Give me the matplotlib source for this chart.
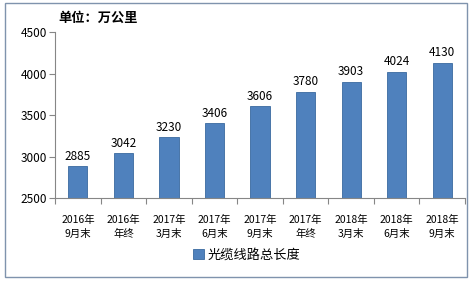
import matplotlib
matplotlib.use("Agg")
import matplotlib.pyplot as plt
from matplotlib.patches import Rectangle

plt.rcParams['font.family'] = ['Noto Sans CJK SC', 'DejaVu Sans']

categories = ["2016年\n9月末", "2016年\n年终", "2017年\n3月末", "2017年\n6月末", "2017年\n9月末",
              "2017年\n年终", "2018年\n3月末", "2018年\n6月末", "2018年\n9月末"]
values = [2885, 3042, 3230, 3406, 3606, 3780, 3903, 4024, 4130]
yticks = [2500, 3000, 3500, 4000, 4500]
series_name = "光缆线路总长度"

fig = plt.figure(figsize=(4.75, 2.83), dpi=100)
ax = fig.add_axes([0.116, 0.300, 0.863, 0.587])

x = list(range(len(values)))
bars = ax.bar(x, values, width=0.42, color="#4F81BD", edgecolor="#3A6A9F", linewidth=0.6,
              label=series_name, zorder=2)
for xi, v in zip(x, values):
    ax.text(xi, v + 40, str(v), ha="center", va="bottom", fontsize=8.5, color="black")

ax.set_xlim(-0.5, len(values) - 0.5)
ax.set_ylim(2500, 4500)
ax.set_yticks(yticks)
ax.set_yticklabels([str(t) for t in yticks], fontsize=8.5)
ax.set_xticks([i - 0.5 for i in range(len(values) + 1)], minor=False)
ax.set_xticklabels([])
ax.set_xticks(x, minor=True)
ax.set_xticklabels(categories, minor=True, fontsize=7.5, linespacing=1.55)
ax.tick_params(axis="x", which="minor", length=0, pad=12)
ax.tick_params(axis="x", which="major", length=4, color="#868686", direction="out")
ax.tick_params(axis="y", length=4, color="#868686", direction="out", pad=2)
for s in ["top", "right"]:
    ax.spines[s].set_visible(False)
ax.spines["left"].set_color("#868686")
ax.spines["bottom"].set_color("#868686")

fig.text(0.122, 0.912, "单位：万公里", fontsize=9.5, fontweight="bold", ha="left", va="bottom")

leg = fig.legend(handles=[bars], labels=[series_name], loc="center", bbox_to_anchor=(0.52, 0.098),
                 frameon=False, fontsize=9.5, handlelength=0.8, handleheight=0.8, handletextpad=0.3)

fig.patches.append(Rectangle((0.011, 0.022), 0.972, 0.966, transform=fig.transFigure,
                             fill=False, edgecolor="#7F93AD", linewidth=1.0))

fig.savefig("out.png", dpi=100)
